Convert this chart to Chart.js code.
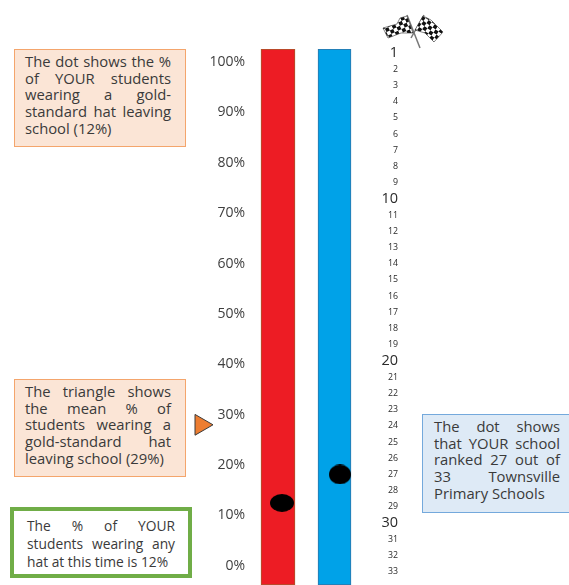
<!DOCTYPE html>
<html>
<head>
<meta charset="utf-8">
<script src="https://cdn.jsdelivr.net/npm/chart.js@4"></script>
<style>
html, body { margin: 0; padding: 0; background: #fff; overflow: hidden; }
#wrap { position: relative; width: 569px; height: 585px; font-family: "Open Sans", sans-serif; color: #3a3a3a; }
.note { position: absolute; box-sizing: border-box; font-size: 14.8px; line-height: 16.7px; }
.note span { display: block; white-space: nowrap; text-align: justify; text-align-last: justify; }
.note span:last-child { text-align-last: left; }
.peach { left: 14px; width: 172px; height: 98px; padding: 3px 14px 0 10px; background: #fbe5d6; border: 1.5px solid #f4a56c; }
.blue { left: 422px; top: 414px; width: 150px; height: 99px; padding: 3px 11px 0 11px; background: #deeaf6; border: 1.5px solid #74a9dc; }
.green { left: 10px; top: 507px; width: 182px; height: 71px; padding: 6px 13px 0 13px; background: #fff; border: 4px solid #70ad47; font-size: 13.8px; line-height: 18px; }
svg { position: absolute; left: 380px; top: 12px; }
</style>
</head>
<body>
<div id="wrap">
  <canvas id="myChart" width="569" height="585" style="position:absolute;left:0;top:0"></canvas>
  <div class="note peach" style="top:49px"><span>The dot shows the %</span><span>of YOUR students</span><span>wearing a gold-</span><span>standard hat leaving</span><span>school (12%)</span></div>
  <div class="note peach" style="top:379px"><span>The triangle shows</span><span>the mean % of</span><span>students wearing a</span><span>gold-standard hat</span><span>leaving school (29%)</span></div>
  <div class="note green"><span>The % of YOUR</span><span>students wearing any</span><span>hat at this time is 12%</span></div>
  <div class="note blue"><span>The dot shows</span><span>that YOUR school</span><span>ranked 27 out of</span><span>33 Townsville</span><span>Primary Schools</span></div>
  <svg width="70" height="40" viewBox="380 12 70 40">
    <defs>
      <pattern id="chkL" width="7.4" height="7.4" patternUnits="userSpaceOnUse" patternTransform="rotate(-25)">
        <rect width="7.4" height="7.4" fill="#fff"/><rect width="3.7" height="3.7" fill="#111"/><rect x="3.7" y="3.7" width="3.7" height="3.7" fill="#111"/>
      </pattern>
      <pattern id="chkR" width="7.4" height="7.4" patternUnits="userSpaceOnUse" patternTransform="rotate(35)">
        <rect width="7.4" height="7.4" fill="#fff"/><rect width="3.7" height="3.7" fill="#111"/><rect x="3.7" y="3.7" width="3.7" height="3.7" fill="#111"/>
      </pattern>
    </defs>
    <line x1="407" y1="15" x2="420" y2="48" stroke="#777" stroke-width="1.5"/>
    <line x1="424" y1="15" x2="411" y2="38" stroke="#777" stroke-width="1.5"/>
    <path d="M383 28 L397 24 L400 18 L407 16 L413 33 L401 33 L388 38 Z" fill="url(#chkL)" stroke="#333" stroke-width="0.6"/>
    <path d="M423 16 L431 20 L443 32 L434 42 L425 33 L415 30 Z" fill="url(#chkR)" stroke="#333" stroke-width="0.6"/>
  </svg>
</div>
<script>
// chart values
const categories = ['% wearing gold-standard hat', 'School rank'];
const pctTicks = [0, 10, 20, 30, 40, 50, 60, 70, 80, 90, 100];
const rankTicks = [1,2,3,4,5,6,7,8,9,10,11,12,13,14,15,16,17,18,19,20,21,22,23,24,25,26,27,28,29,30,31,32,33];
const bigRanks = [1, 10, 20, 30];
const yourPct = [12.5];
const meanPct = [28];
const yourRank = [27];

// axis windows, so both tracks run past the first and last tick
const pctRange = [-3.8, 102.6];
const rankRange = [0.75, 33.82];

// where things sit across the page (x scale is just page width)
const col = { triangle: 201, pctTrack: 278, pctDot: 282, rankTrack: 334.5, rankDot: 340, pctAxis: 245, rankAxis: 398 };

function ellipse(w, h) {
    const c = document.createElement('canvas');
    c.width = w; c.height = h;
    const g = c.getContext('2d');
    g.fillStyle = '#000';
    g.beginPath();
    g.ellipse(w / 2, h / 2, w / 2, h / 2, 0, 0, Math.PI * 2);
    g.fill();
    return c;
}

// axes float over the plot, they should not eat into the chart area
function noSpace(s) {
    s.width = 0;
    s.paddingTop = s.paddingBottom = s.paddingLeft = s.paddingRight = 0;
}

const config = {
    data: {
        datasets: [
            {
                type: 'bar', label: categories[0], yAxisID: 'y', grouped: false,
                data: [{ x: col.pctTrack, y: pctRange }],
                barThickness: 34, backgroundColor: '#ed1c24', borderColor: '#a8592c', borderWidth: 1, borderSkipped: false
            },
            {
                type: 'bar', label: categories[1], yAxisID: 'y2', grouped: false,
                data: [{ x: col.rankTrack, y: rankRange }],
                barThickness: 33, backgroundColor: '#00a2e8', borderColor: '#2f75a8', borderWidth: 1, borderSkipped: false
            },
            {
                type: 'scatter', label: 'Your %', yAxisID: 'y', order: -1, clip: false,
                data: yourPct.map(v => ({ x: col.pctDot, y: v })),
                pointStyle: ellipse(24, 18)
            },
            {
                type: 'scatter', label: 'Your rank', yAxisID: 'y2', order: -1, clip: false,
                data: yourRank.map(v => ({ x: col.rankDot, y: v })),
                pointStyle: ellipse(22, 20)
            },
            {
                type: 'scatter', label: 'Mean %', yAxisID: 'y', order: -1, clip: false,
                data: meanPct.map(v => ({ x: col.triangle, y: v })),
                pointStyle: 'triangle', pointRotation: 90, pointRadius: 12,
                backgroundColor: '#ed7d31', borderColor: '#3a3a3a', borderWidth: 1
            }
        ]
    },
    options: {
        responsive: false,
        animation: false,
        layout: { padding: { top: 49 }, autoPadding: false },
        plugins: { legend: { display: false }, tooltip: { enabled: false } },
        scales: {
            x: { type: 'linear', min: 0, max: 569, offset: false, display: false },
            y: {
                type: 'linear', axis: 'y',
                position: { x: col.pctAxis },
                min: pctRange[0], max: pctRange[1],
                afterBuildTicks: s => { s.ticks = pctTicks.map(v => ({ value: v })); },
                afterFit: noSpace,
                grid: { display: false, drawTicks: false },
                border: { display: false },
                ticks: {
                    padding: 0, autoSkip: false, color: '#3f3f3f',
                    font: { family: 'Open Sans', size: 14 },
                    callback: v => v + '%'
                }
            },
            y2: {
                type: 'linear', axis: 'y',
                position: { x: col.rankAxis },
                reverse: true,
                min: rankRange[0], max: rankRange[1],
                afterBuildTicks: s => { s.ticks = rankTicks.map(v => ({ value: v })); },
                afterFit: noSpace,
                grid: { display: false, drawTicks: false },
                border: { display: false },
                ticks: {
                    padding: 0, autoSkip: false, color: '#2b2b2b',
                    font: c => ({ family: 'Open Sans', size: c.tick && bigRanks.includes(c.tick.value) ? 14.5 : 8.8 }),
                    callback: v => String(v)
                }
            }
        }
    }
};

new Chart(document.querySelector('#myChart'), config);
</script>
</body>
</html>
